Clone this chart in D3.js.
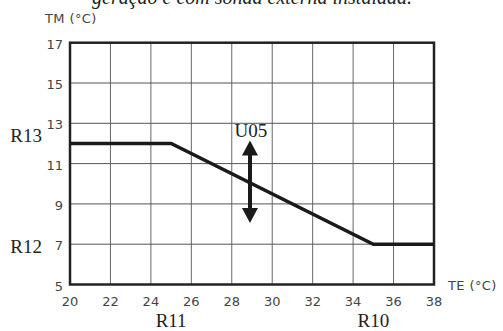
<!DOCTYPE html>
<html>
<head>
<meta charset="utf-8">
<script src="https://cdn.jsdelivr.net/npm/d3@7"></script>
<style>
  html, body { margin: 0; padding: 0; background: #fff; }
  svg { display: block; }
</style>
</head>
<body>
<div id="chart"></div>
<script>
const width = 503;
const height = 331;

// data
const teTicks = [20, 22, 24, 26, 28, 30, 32, 34, 36, 38];
const tmTicks = [5, 7, 9, 11, 13, 15, 17];
const curveTE = [20, 25, 35, 38];
const curveTM = [12, 12, 7, 7];
const arrowTE = 28.9;
const arrowTM = [12.15, 8.05];
const leftLabels = ["R13", "R12"];
const leftValues = [12, 7];
const bottomLabels = ["R11", "R10"];
const bottomValues = [25, 35];
const title = "geração e com sonda externa instalada.";

const svg = d3.select("#chart")
    .append("svg")
    .attr("width", width)
    .attr("height", height);

const x = d3.scaleLinear().domain([20, 38]).range([70, 434]);
const y = d3.scaleLinear().domain([5, 17]).range([284.5, 42.7]);

const sans = "DejaVu Sans, sans-serif";
const serif = "Liberation Serif, serif";

// cropped caption at the very top (cut off in the source too)
svg.append("text")
    .attr("x", 252)
    .attr("y", 4)
    .attr("text-anchor", "middle")
    .style("font-family", serif)
    .style("font-style", "italic")
    .style("font-size", "20px")
    .style("fill", "#222")
    .text(title);

// grid
svg.append("g")
    .selectAll("line")
    .data(teTicks.slice(1, -1))
    .join("line")
    .attr("x1", d => x(d)).attr("x2", d => x(d))
    .attr("y1", y(5)).attr("y2", y(17))
    .attr("stroke", "#666")
    .attr("stroke-width", 1);

svg.append("g")
    .selectAll("line")
    .data(tmTicks.slice(1, -1))
    .join("line")
    .attr("x1", x(20)).attr("x2", x(38))
    .attr("y1", d => y(d)).attr("y2", d => y(d))
    .attr("stroke", "#555")
    .attr("stroke-width", 1);

// frame
svg.append("rect")
    .attr("x", x(20))
    .attr("y", y(17))
    .attr("width", x(38) - x(20))
    .attr("height", y(5) - y(17))
    .attr("fill", "none")
    .attr("stroke", "#222")
    .attr("stroke-width", 2.5);

// tick labels
svg.append("g")
    .selectAll("text")
    .data(tmTicks)
    .join("text")
    .attr("x", 63)
    .attr("y", d => y(d) + 6)
    .attr("text-anchor", "end")
    .style("font-family", sans)
    .style("font-size", "13px")
    .style("fill", "#444")
    .text(d => d);

svg.append("g")
    .selectAll("text")
    .data(teTicks)
    .join("text")
    .attr("x", d => x(d))
    .attr("y", y(5) + 21.5)
    .attr("text-anchor", "middle")
    .style("font-family", sans)
    .style("font-size", "13px")
    .style("fill", "#444")
    .text(d => d);

// axis titles
svg.append("text")
    .attr("x", 45).attr("y", 23)
    .style("font-family", sans)
    .style("font-size", "13px")
    .style("letter-spacing", "0.4px")
    .style("fill", "#444")
    .text("TM (°C)");

svg.append("text")
    .attr("x", 448).attr("y", 290)
    .style("font-family", sans)
    .style("font-size", "13px")
    .style("letter-spacing", "0.4px")
    .style("fill", "#444")
    .text("TE (°C)");

// curve
const line = d3.line()
    .x(d => x(d[0]))
    .y(d => y(d[1]));

svg.append("path")
    .datum(d3.zip(curveTE, curveTM))
    .attr("d", line)
    .attr("fill", "none")
    .attr("stroke", "#1a1a1a")
    .attr("stroke-width", 3.5)
    .attr("stroke-linejoin", "miter");

// double arrow
const ax = x(arrowTE);
const yTop = y(arrowTM[0]);
const yBot = y(arrowTM[1]);
const headH = 15, headW = 8;

svg.append("line")
    .attr("x1", ax).attr("x2", ax)
    .attr("y1", yTop + headH - 1).attr("y2", yBot - headH + 1)
    .attr("stroke", "#1a1a1a")
    .attr("stroke-width", 4);

svg.append("path")
    .attr("d", `M${ax},${yTop}L${ax - headW},${yTop + headH}L${ax + headW},${yTop + headH}Z`)
    .attr("fill", "#1a1a1a");

svg.append("path")
    .attr("d", `M${ax},${yBot}L${ax - headW},${yBot - headH}L${ax + headW},${yBot - headH}Z`)
    .attr("fill", "#1a1a1a");

svg.append("text")
    .attr("x", ax + 1)
    .attr("y", yTop - 3)
    .attr("text-anchor", "middle")
    .style("font-family", serif)
    .style("font-size", "19px")
    .style("fill", "#222")
    .text("U05");

// parameter labels
const leftOffsets = [-1.5, 9];
svg.append("g")
    .selectAll("text")
    .data(leftLabels)
    .join("text")
    .attr("x", 42)
    .attr("y", (d, i) => y(leftValues[i]) + leftOffsets[i])
    .attr("text-anchor", "end")
    .style("font-family", serif)
    .style("font-size", "19px")
    .style("fill", "#222")
    .text(d => d);

svg.append("g")
    .selectAll("text")
    .data(bottomLabels)
    .join("text")
    .attr("x", (d, i) => x(bottomValues[i]))
    .attr("y", 327)
    .attr("text-anchor", "middle")
    .style("font-family", serif)
    .style("font-size", "19px")
    .style("fill", "#222")
    .text(d => d);
</script>
</body>
</html>
